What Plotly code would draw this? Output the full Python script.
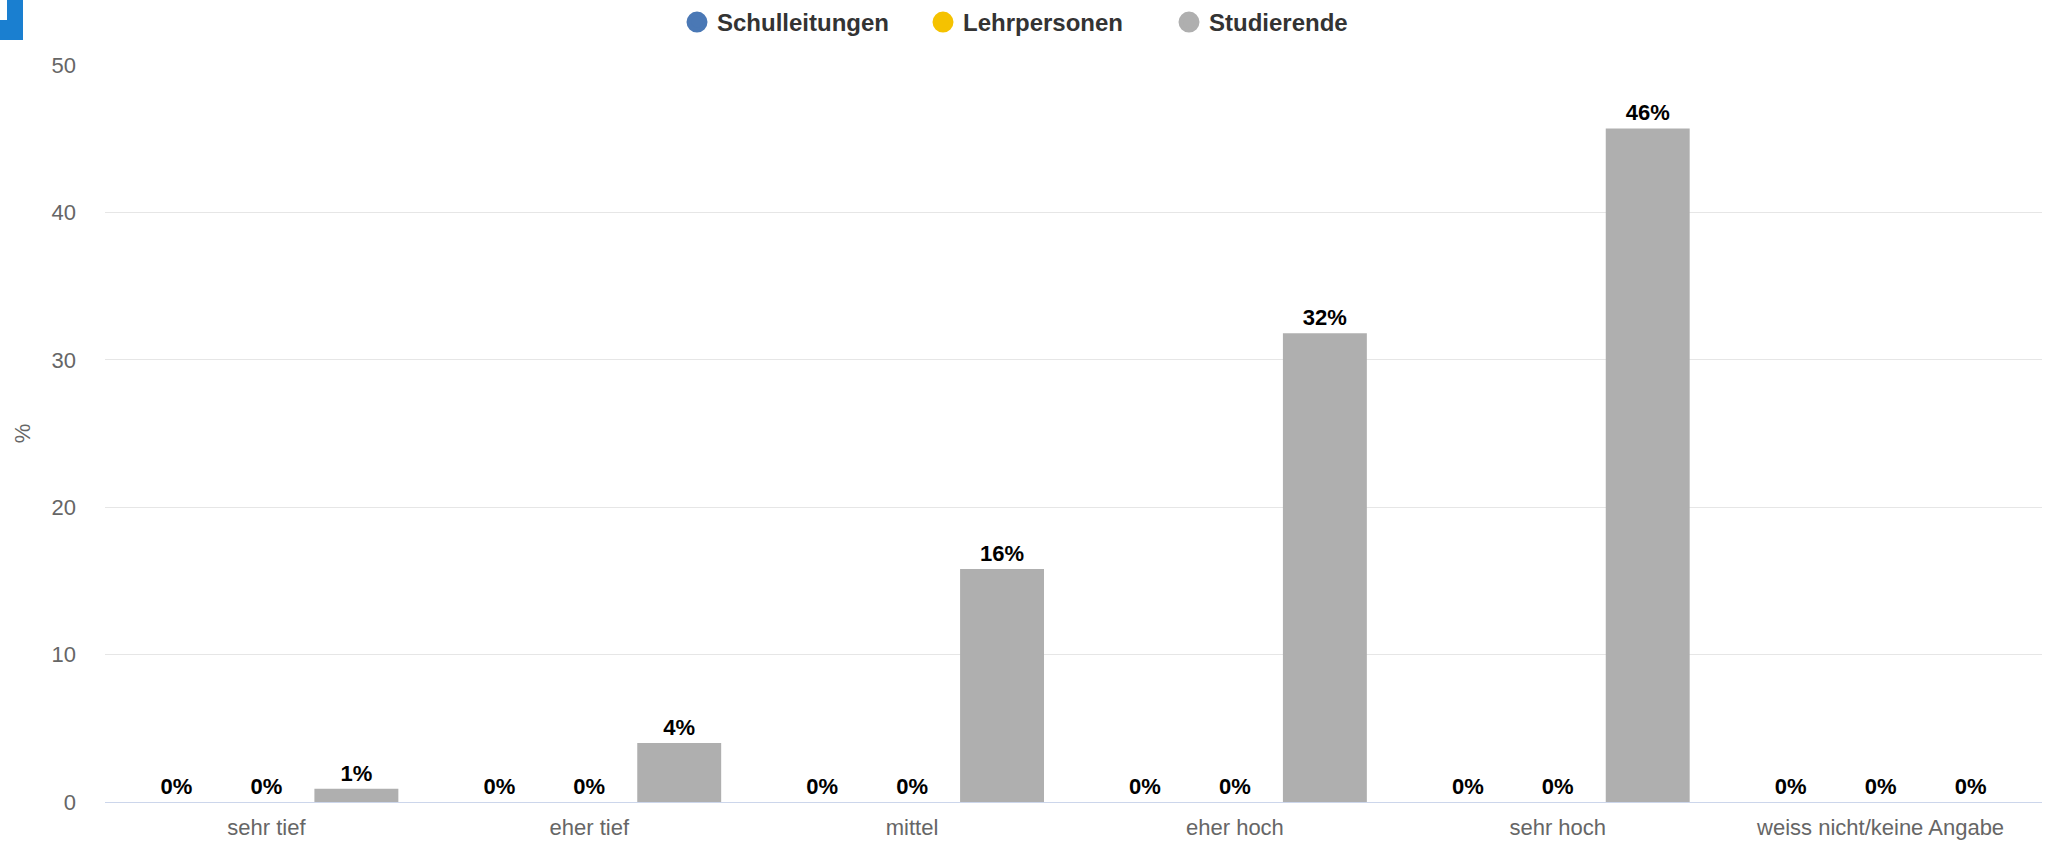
import plotly.graph_objects as go

# category labels and series values (percent)
categories = ["sehr tief", "eher tief", "mittel", "eher hoch", "sehr hoch", "weiss nicht/keine Angabe"]
schulleitungen = [0, 0, 0, 0, 0, 0]
lehrpersonen = [0, 0, 0, 0, 0, 0]
studierende = [0.9, 4.0, 15.8, 31.8, 45.7, 0]
y_ticks = [0, 10, 20, 30, 40, 50]

series = [
    ("Schulleitungen", schulleitungen, "#4a78b5"),
    ("Lehrpersonen", lehrpersonen, "#f5c200"),
    ("Studierende", studierende, "#afafaf"),
]

W, H = 2052, 847
ML, MR, MT, MB = 105, 10, 65, 45
pw, ph = W - ML - MR, H - MT - MB
FONT = "Liberation Sans, Arial, sans-serif"

fig = go.Figure()

for name, vals, col in series:
    fig.add_trace(go.Bar(
        x=categories, y=vals, name=name,
        marker=dict(color=col, line=dict(width=0)),
        texttemplate="<b>%{y:.0f}%</b>", textposition="outside",
        textfont=dict(color="#000000", size=22, family=FONT),
        cliponaxis=False, showlegend=False, hoverinfo="skip",
    ))
    # circle marker for the legend
    fig.add_trace(go.Scatter(
        x=[None], y=[None], mode="markers", name=f"<b>{name}</b>",
        marker=dict(color=col, size=16, symbol="circle", line=dict(color=col, width=5)),
    ))

# partial blue logo in the top-left corner (pixel -> paper)
def px(x):
    return (x - ML) / pw

def py(y):
    return (H - MB - y) / ph

logo = "#1a7fd0"
fig.add_shape(type="rect", xref="paper", yref="paper", x0=px(0), x1=px(23), y0=py(40), y1=py(20),
              fillcolor=logo, line_width=0, layer="above")
fig.add_shape(type="rect", xref="paper", yref="paper", x0=px(7), x1=px(23), y0=py(20), y1=py(0),
              fillcolor=logo, line_width=0, layer="above")

fig.update_layout(
    width=W, height=H,
    margin=dict(l=ML, r=MR, t=MT, b=MB),
    paper_bgcolor="white", plot_bgcolor="white",
    barmode="group", bargap=0.164, bargroupgap=0.067,
    font=dict(family=FONT, color="#666666", size=22),
    legend=dict(
        orientation="h", x=677 / W, xref="container", xanchor="left",
        y=1, yref="container", yanchor="top",
        font=dict(size=24, color="#333333", family=FONT),
        entrywidth=201, entrywidthmode="pixels",
    ),
    xaxis=dict(
        showline=True, linecolor="#ccd6eb", linewidth=1, automargin=False,
        showgrid=False, ticks="outside", ticklen=6, tickcolor="rgba(0,0,0,0)",
        tickfont=dict(size=22, color="#666666"),
    ),
    yaxis=dict(
        range=[0, 50], tickvals=y_ticks, showgrid=True, gridcolor="#e6e6e6",
        zeroline=False, tickfont=dict(size=22, color="#666666"), automargin=False,
        ticklabelstandoff=28,
        title=dict(text="%", font=dict(size=22, color="#666666"), standoff=14),
    ),
)

fig.write_html("out.html", config={"displayModeBar": False},
               post_script="document.body.style.margin='0';")
